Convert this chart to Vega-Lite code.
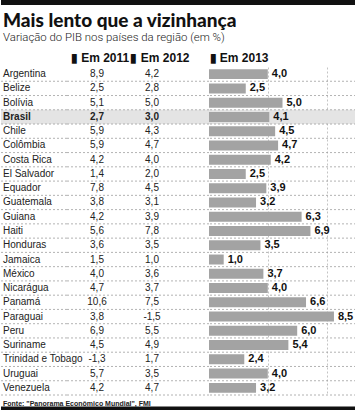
{
  "$schema": "https://vega.github.io/schema/vega-lite/v6.json",
  "padding": 0,
  "autosize": {"type": "pad"},
  "spacing": 0,
  "config": {
    "view": {"stroke": null},
    "font": "Liberation Sans",
    "locale": {"number": {"decimal": ",", "thousands": ".", "grouping": [3], "currency": ["", ""], "minus": "-"}},
    "text": {"font": "Liberation Sans", "color": "#222"}
  },
  "datasets": {
    "gdp": [
      {"pais": "Argentina", "2011": 8.9, "2012": 4.2, "2013": 4.0},
      {"pais": "Belize", "2011": 2.5, "2012": 2.8, "2013": 2.5},
      {"pais": "Bolívia", "2011": 5.1, "2012": 5.0, "2013": 5.0},
      {"pais": "Brasil", "2011": 2.7, "2012": 3.0, "2013": 4.1},
      {"pais": "Chile", "2011": 5.9, "2012": 4.3, "2013": 4.5},
      {"pais": "Colômbia", "2011": 5.9, "2012": 4.7, "2013": 4.7},
      {"pais": "Costa Rica", "2011": 4.2, "2012": 4.0, "2013": 4.2},
      {"pais": "El Salvador", "2011": 1.4, "2012": 2.0, "2013": 2.5},
      {"pais": "Equador", "2011": 7.8, "2012": 4.5, "2013": 3.9},
      {"pais": "Guatemala", "2011": 3.8, "2012": 3.1, "2013": 3.2},
      {"pais": "Guiana", "2011": 4.2, "2012": 3.9, "2013": 6.3},
      {"pais": "Haiti", "2011": 5.6, "2012": 7.8, "2013": 6.9},
      {"pais": "Honduras", "2011": 3.6, "2012": 3.5, "2013": 3.5},
      {"pais": "Jamaica", "2011": 1.5, "2012": 1.0, "2013": 1.0},
      {"pais": "México", "2011": 4.0, "2012": 3.6, "2013": 3.7},
      {"pais": "Nicarágua", "2011": 4.7, "2012": 3.7, "2013": 4.0},
      {"pais": "Panamá", "2011": 10.6, "2012": 7.5, "2013": 6.6},
      {"pais": "Paraguai", "2011": 3.8, "2012": -1.5, "2013": 8.5},
      {"pais": "Peru", "2011": 6.9, "2012": 5.5, "2013": 6.0},
      {"pais": "Suriname", "2011": 4.5, "2012": 4.9, "2013": 5.4},
      {"pais": "Trinidad e Tobago", "2011": -1.3, "2012": 1.7, "2013": 2.4},
      {"pais": "Uruguai", "2011": 5.7, "2012": 3.5, "2013": 4.0},
      {"pais": "Venezuela", "2011": 4.2, "2012": 4.7, "2013": 3.2}
    ]
  },
  "vconcat": [
    {
      "data": {"values": [{"faixa": "topo"}]},
      "width": 355,
      "height": 5,
      "mark": {"type": "rect", "color": "#111"},
      "encoding": {
        "x": {"datum": 0, "type": "quantitative", "scale": {"domain": [0, 1]}, "axis": null},
        "x2": {"datum": 1},
        "y": {"datum": 0, "type": "quantitative", "scale": {"domain": [0, 1]}, "axis": null},
        "y2": {"datum": 1}
      }
    },
    {
      "data": {"values": [
        {"texto": "Mais lento que a vizinhança", "papel": "titulo"},
        {"texto": "Variação do PIB nos países da região (em %)", "papel": "subtitulo"}
      ]},
      "width": 355,
      "height": 46,
      "layer": [
        {
          "transform": [{"filter": "datum.papel === 'titulo'"}],
          "mark": {"type": "text", "align": "left", "baseline": "alphabetic", "font": "Lato, Liberation Sans", "fontSize": 19, "fontWeight": 900, "color": "#111", "dx": 2},
          "encoding": {
            "x": {"datum": 0, "type": "quantitative", "scale": {"domain": [0, 1]}, "axis": null},
            "y": {"datum": 26, "type": "quantitative", "scale": {"domain": [0, 46]}, "axis": null},
            "text": {"field": "texto", "type": "nominal"}
          }
        },
        {
          "transform": [{"filter": "datum.papel === 'subtitulo'"}],
          "mark": {"type": "text", "align": "left", "baseline": "alphabetic", "font": "Roboto, Liberation Sans", "fontSize": 11.4, "fontWeight": 300, "color": "#222", "dx": 2},
          "encoding": {
            "x": {"datum": 0, "type": "quantitative"},
            "y": {"datum": 11, "type": "quantitative"},
            "text": {"field": "texto", "type": "nominal"}
          }
        }
      ]
    },
    {
      "data": {"name": "gdp"},
      "spacing": 0,
      "bounds": "flush",
      "hconcat": [
        {
          "width": 66,
          "height": 328,
          "layer": [
            {
              "mark": {"type": "rect", "color": "#e4e4e4"},
              "encoding": {
                "y": {"field": "pais", "type": "nominal", "sort": null, "axis": null, "scale": {"paddingInner": 0, "paddingOuter": 0}},
                "opacity": {"condition": {"test": "datum.pais === 'Brasil'", "value": 1}, "value": 0}
              }
            },
            {
              "mark": {"type": "rule", "color": "#a0a0a0", "strokeDash": [2, 2], "strokeWidth": 0.8},
              "encoding": {
                "y": {"field": "pais", "type": "nominal", "sort": null, "bandPosition": 1, "axis": null}
              }
            },
            {
              "mark": {"type": "text", "align": "left", "baseline": "middle", "fontSize": 10, "dx": 2, "fontWeight": {"expr": "datum.pais === 'Brasil' ? 'bold' : 'normal'"}},
              "encoding": {
                "y": {"field": "pais", "type": "nominal", "sort": null, "axis": null},
                "x": {"datum": 0, "type": "quantitative", "scale": {"domain": [0, 1]}, "axis": null},
                "text": {"field": "pais", "type": "nominal"}
              }
            }
          ]
        },
        {
          "width": 142,
          "height": 328,
          "layer": [
            {
              "mark": {"type": "rect", "color": "#e4e4e4"},
              "encoding": {
                "y": {"field": "pais", "type": "nominal", "sort": null, "axis": null, "scale": {"paddingInner": 0, "paddingOuter": 0}},
                "opacity": {"condition": {"test": "datum.pais === 'Brasil'", "value": 1}, "value": 0}
              }
            },
            {
              "mark": {"type": "rule", "color": "#a0a0a0", "strokeDash": [2, 2], "strokeWidth": 0.8},
              "encoding": {
                "y": {"field": "pais", "type": "nominal", "sort": null, "bandPosition": 1, "axis": null}
              }
            },
            {
              "transform": [{"fold": ["2011", "2012"], "as": ["ano", "v"]}],
              "mark": {"type": "text", "align": "center", "baseline": "middle", "fontSize": 10, "fontWeight": {"expr": "datum.pais === 'Brasil' ? 'bold' : 'normal'"}},
              "encoding": {
                "y": {"field": "pais", "type": "nominal", "sort": null, "axis": null},
                "x": {
                  "field": "ano", "type": "nominal",
                  "scale": {"type": "band", "domain": ["2011", "2012"], "paddingInner": 0, "paddingOuter": 0.291, "align": 0.078},
                  "axis": {
                    "orient": "top", "title": null, "labelAngle": 0,
                    "labelExpr": "'▮ Em ' + datum.value",
                    "domain": false, "ticks": false,
                    "labelFont": "Liberation Sans", "labelFontWeight": "bold", "labelFontSize": 12,
                    "labelColor": "#111", "labelPadding": 3,
                    "labelOffset": {"condition": {"test": "datum.value === '2011'", "value": 3}, "value": 8}
                  }
                },
                "text": {"field": "v", "type": "quantitative", "format": ".1f"}
              }
            }
          ]
        },
        {
          "width": 147,
          "height": 328,
          "layer": [
            {
              "mark": {"type": "rect", "color": "#e4e4e4"},
              "encoding": {
                "y": {"field": "pais", "type": "nominal", "sort": null, "axis": null, "scale": {"paddingInner": 0, "paddingOuter": 0}},
                "opacity": {"condition": {"test": "datum.pais === 'Brasil'", "value": 1}, "value": 0}
              }
            },
            {
              "mark": {"type": "rule", "color": "#a0a0a0", "strokeDash": [2, 2], "strokeWidth": 0.8},
              "encoding": {
                "y": {"field": "pais", "type": "nominal", "sort": null, "bandPosition": 1, "axis": null}
              }
            },
            {
              "mark": {"type": "bar", "color": "#a3a3a3", "height": {"band": 0.7}},
              "encoding": {
                "y": {"field": "pais", "type": "nominal", "sort": null, "axis": null},
                "x": {
                  "field": "2013", "type": "quantitative",
                  "scale": {"domain": [0, 10], "nice": false},
                  "axis": {
                    "orient": "top", "title": null, "values": [0, 2, 4, 6, 8],
                    "labelExpr": "datum.value === 0 ? '▮ Em 2013' : ''",
                    "labelAlign": "left", "labelFlush": false,
                    "labelFont": "Liberation Sans", "labelFontWeight": "bold", "labelFontSize": 12,
                    "labelColor": "#111", "labelPadding": 3,
                    "domain": false, "ticks": false,
                    "grid": true, "gridColor": "#c4c4c4", "gridDash": [2, 2],
                    "gridOpacity": {"condition": {"test": "datum.value === 0", "value": 0}, "value": 1}
                  }
                }
              }
            },
            {
              "mark": {"type": "text", "align": "left", "baseline": "middle", "dx": 4, "fontSize": 11, "fontWeight": "bold", "color": "#111"},
              "encoding": {
                "y": {"field": "pais", "type": "nominal", "sort": null, "axis": null},
                "x": {"field": "2013", "type": "quantitative"},
                "text": {"field": "2013", "type": "quantitative", "format": ".1f"}
              }
            }
          ]
        }
      ]
    },
    {
      "data": {"values": [{"fonte": "Fonte: \"Panorama Econômico Mundial\", FMI"}]},
      "width": 355,
      "height": 14,
      "layer": [
        {
          "mark": {"type": "text", "align": "left", "baseline": "top", "fontSize": 7, "fontWeight": "bold", "color": "#222", "dx": 2, "dy": 4},
          "encoding": {
            "x": {"datum": 0, "type": "quantitative", "scale": {"domain": [0, 1]}, "axis": null},
            "y": {"datum": 1, "type": "quantitative", "scale": {"domain": [0, 1]}, "axis": null},
            "text": {"field": "fonte", "type": "nominal"}
          }
        },
        {
          "mark": {"type": "rect", "color": "#111"},
          "encoding": {
            "x": {"datum": 0, "type": "quantitative"},
            "x2": {"datum": 1},
            "y": {"datum": 0, "type": "quantitative"},
            "y2": {"datum": 0.25}
          }
        }
      ]
    }
  ]
}
